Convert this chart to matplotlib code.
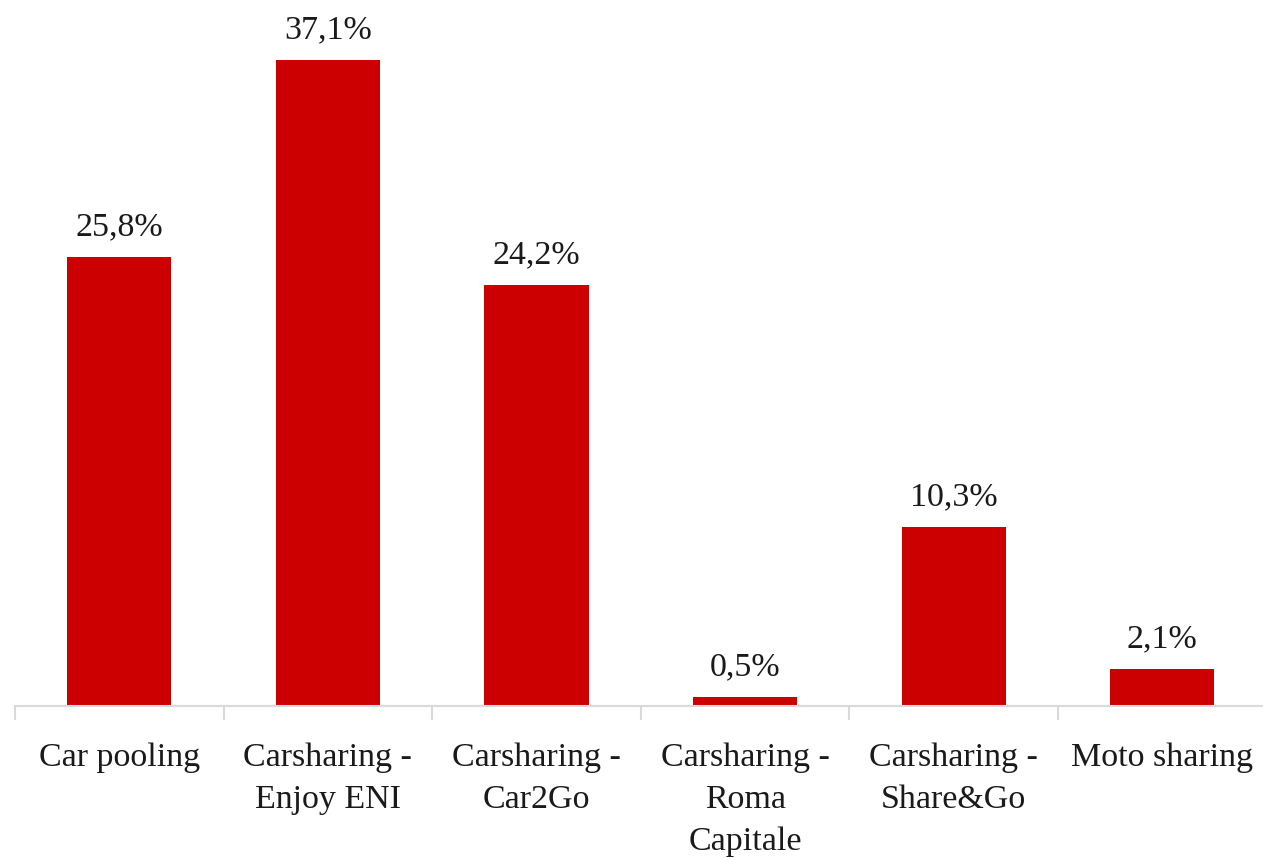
import matplotlib
matplotlib.use("Agg")
import matplotlib.pyplot as plt
import numpy as np

categories = ["Car pooling", "Carsharing -\nEnjoy ENI", "Carsharing -\nCar2Go",
              "Carsharing -\nRoma\nCapitale", "Carsharing -\nShare&Go", "Moto sharing"]
values = [25.8, 37.1, 24.2, 0.5, 10.3, 2.1]
labels = ["25,8%", "37,1%", "24,2%", "0,5%", "10,3%", "2,1%"]

plt.rcParams["font.family"] = ["Liberation Serif", "DejaVu Serif"]

fig = plt.figure(figsize=(12.63, 8.59), dpi=100)
ax = fig.add_axes([15 / 1263, 153 / 859, 1251.6 / 1263, 706 / 859])

x = np.arange(len(categories))
ax.bar(x, values, width=0.5, color="#cc0000")

for xi, v, lab in zip(x, values, labels):
    ax.text(xi, v + 0.85, lab, ha="center", va="bottom", fontsize=24.5, color="#1a1a1a")

ax.set_xlim(-0.5, len(categories) - 0.5)
ax.set_ylim(0, 40.55)

for s in ["top", "right", "left"]:
    ax.spines[s].set_visible(False)
ax.spines["bottom"].set_color("#d9d9d9")
ax.spines["bottom"].set_linewidth(1.5)
ax.set_yticks([])

# category labels between boundary ticks
ax.set_xticks(x)
ax.set_xticklabels(categories, fontsize=24.5, color="#1a1a1a", linespacing=1.5, va="top")
ax.tick_params(axis="x", which="major", length=0, pad=26)
ax.set_xticks(np.arange(-0.5, len(categories)), minor=True)
ax.tick_params(axis="x", which="minor", length=10, width=1.5, color="#d9d9d9")

fig.savefig("out.png", dpi=100)
